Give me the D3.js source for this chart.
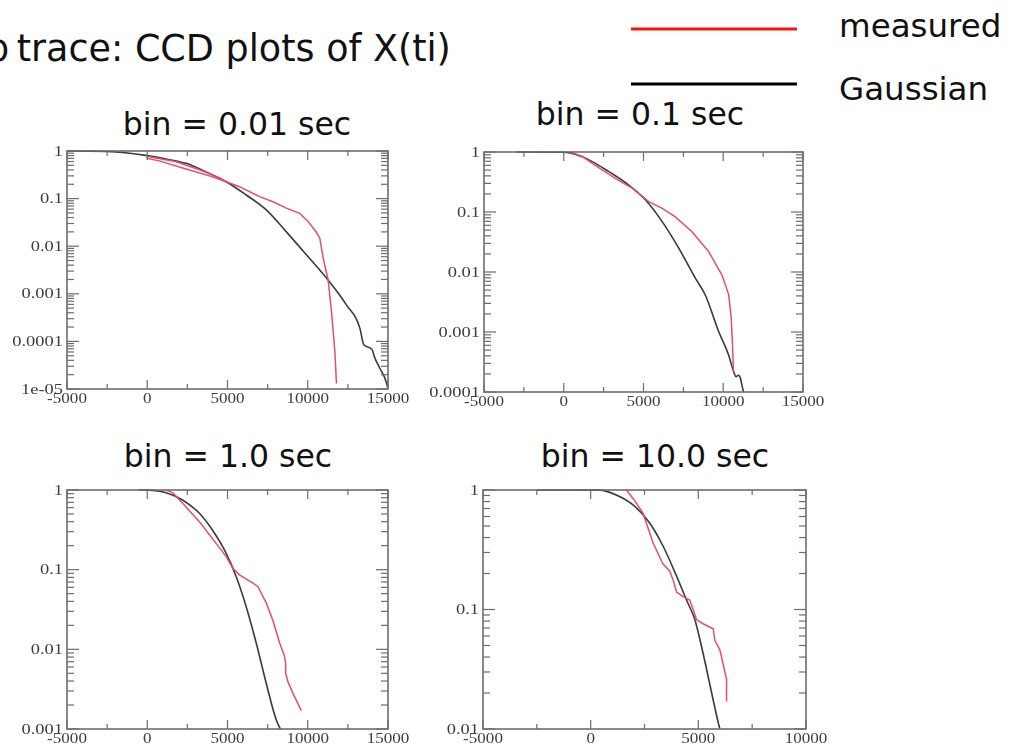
<!DOCTYPE html>
<html>
<head>
<meta charset="utf-8">
<script src="https://cdn.jsdelivr.net/npm/d3@7"></script>
<style>
  html, body { margin: 0; padding: 0; background: #fff; }
  svg { display: block; }
</style>
</head>
<body>
<svg id="chart" width="1011" height="754"></svg>
<script>
// ---- text ----
const titleLead = "p";
const titleRest = " trace: CCD plots of X(ti)";
const panelTitles = ["bin = 0.01 sec", "bin = 0.1 sec", "bin = 1.0 sec", "bin = 10.0 sec"];
const legendLabels = ["measured", "Gaussian"];

// ---- axis ticks ----
const xTicksWide = [-5000, 0, 5000, 10000, 15000];
const xTicksNarrow = [-5000, 0, 5000, 10000];
const yTicks001 = [1, 0.1, 0.01, 0.001, 0.0001, 0.00001];
const yLabels001 = ["1", "0.1", "0.01", "0.001", "0.0001", "1e-05"];
const yTicks01 = [1, 0.1, 0.01, 0.001, 0.0001];
const yLabels01 = ["1", "0.1", "0.01", "0.001", "0.0001"];
const yTicks1 = [1, 0.1, 0.01, 0.001];
const yLabels1 = ["1", "0.1", "0.01", "0.001"];
const yTicks10 = [1, 0.1, 0.01];
const yLabels10 = ["1", "0.1", "0.01"];

// ---- series: [X(ti), complementary cumulative fraction] ----
// bin = 0.01 sec
const gauss001 = [[-5000, 0.998], [-2500, 0.975], [0, 0.80], [1250, 0.67], [2417, 0.55], [3700, 0.36],
  [4917, 0.226], [6167, 0.119], [7417, 0.058], [8667, 0.020], [9917, 0.0066], [11270, 0.00195],
  [12417, 0.00058], [13250, 0.000188], [13500, 0.000084], [13980, 0.000069], [14190, 0.000044],
  [14500, 0.000027], [14920, 0.000013], [15000, 0.00001]];
const measured001 = [[0, 0.76], [0, 0.70], [750, 0.62], [2417, 0.42], [3875, 0.30], [4917, 0.226],
  [5750, 0.178], [7000, 0.11], [7830, 0.086], [8667, 0.063], [9500, 0.049], [10020, 0.033],
  [10540, 0.0196], [10750, 0.0147], [10960, 0.0056], [11270, 0.00195], [11480, 0.00042],
  [11690, 0.000061], [11790, 0.000013]];
const measured001Upper = [[125, 0.76], [1750, 0.60], [3290, 0.40], [4540, 0.27], [4917, 0.226]];

// bin = 0.1 sec
const gauss01 = [[-3000, 1], [0, 0.99], [750, 0.91], [1580, 0.74], [2830, 0.47], [4080, 0.28],
  [5130, 0.158], [6170, 0.069], [7210, 0.025], [8250, 0.0079], [8880, 0.0041], [9710, 0.00102],
  [10340, 0.00041], [10650, 0.00022], [10800, 0.00018], [10960, 0.00019], [11100, 0.00016],
  [11170, 0.00013], [11270, 0.0001]];
const measured01 = [[400, 1], [1170, 0.84], [2000, 0.59], [3250, 0.36], [4290, 0.25], [5330, 0.149],
  [6170, 0.115], [7000, 0.083], [8040, 0.047], [9080, 0.022], [9920, 0.0089], [10340, 0.0042],
  [10500, 0.0017], [10580, 0.00061], [10640, 0.00022]];

// bin = 1.0 sec
const gauss1 = [[-500, 1], [0, 0.995], [1170, 0.925], [2200, 0.75], [3250, 0.51], [4080, 0.31],
  [4920, 0.16], [5540, 0.082], [6170, 0.034], [6790, 0.012], [7420, 0.0037], [8040, 0.0013],
  [8290, 0.001]];
const measured1 = [[1170, 1], [1600, 0.92], [2210, 0.68], [3250, 0.40], [4290, 0.214], [4920, 0.146],
  [5330, 0.104], [5750, 0.086], [6580, 0.068], [6900, 0.061], [7420, 0.038], [7830, 0.023],
  [8250, 0.012], [8560, 0.0081], [8625, 0.0066], [8625, 0.005], [8770, 0.0039], [9080, 0.0028],
  [9600, 0.0017]];

// bin = 10.0 sec
const gauss10 = [[-2500, 1], [400, 0.998], [1190, 0.91], [1970, 0.75], [2740, 0.53], [3360, 0.34],
  [3990, 0.19], [4450, 0.12], [4840, 0.082], [5220, 0.043], [5620, 0.020], [5930, 0.0112],
  [6000, 0.01]];
const measured10 = [[1660, 1], [1970, 0.85], [2430, 0.64], [2900, 0.36], [3360, 0.24], [3670, 0.21],
  [3830, 0.176], [3990, 0.14], [4290, 0.128], [4600, 0.12], [4760, 0.1], [4920, 0.082],
  [5220, 0.076], [5690, 0.069], [5770, 0.055], [6000, 0.046], [6150, 0.035], [6310, 0.026],
  [6310, 0.017]];

// ---- layout ----
const svg = d3.select("#chart");
const frameColor = "#6d6d6d";
const gaussColor = "#3a3a3a";
const measuredColor = "#e2506a";
const sansFont = "DejaVu Sans, sans-serif";

const panels = [
  { title: panelTitles[0], titleX: 237, titleY: 135, box: [67, 151, 388, 389],
    xDomain: [-5000, 15000], xTicks: xTicksWide, yDomain: [1e-5, 1], yTicks: yTicks001, yLabels: yLabels001,
    gauss: gauss001, measured: [measured001, measured001Upper] },
  { title: panelTitles[1], titleX: 640, titleY: 125, box: [484, 152, 803, 392],
    xDomain: [-5000, 15000], xTicks: xTicksWide, yDomain: [1e-4, 1], yTicks: yTicks01, yLabels: yLabels01,
    gauss: gauss01, measured: [measured01] },
  { title: panelTitles[2], titleX: 228, titleY: 467, box: [67, 490, 388, 729],
    xDomain: [-5000, 15000], xTicks: xTicksWide, yDomain: [1e-3, 1], yTicks: yTicks1, yLabels: yLabels1,
    gauss: gauss1, measured: [measured1] },
  { title: panelTitles[3], titleX: 655, titleY: 467, box: [483, 490, 806, 729],
    xDomain: [-5000, 10000], xTicks: xTicksNarrow, yDomain: [1e-2, 1], yTicks: yTicks10, yLabels: yLabels10,
    gauss: gauss10, measured: [measured10] }
];

// soft look of the plotted panels
const defs = svg.append("defs");
defs.append("filter").attr("id", "soft")
  .append("feGaussianBlur").attr("stdDeviation", 0.45);

// page title (its first letter runs off the left edge)
const title = svg.append("text")
  .attr("x", -14).attr("y", 61)
  .attr("font-family", sansFont)
  .attr("font-size", 36.5)
  .attr("fill", "#111");
title.append("tspan").text(titleLead);
title.append("tspan").attr("dx", -4).text(titleRest);

// legend
const legendRows = [
  { label: legendLabels[0], color: "#ff1010", y: 29, ty: 37 },
  { label: legendLabels[1], color: "#000", y: 84, ty: 100 }
];

function drawPanel(p) {
  const [x0, y0, x1, y1] = p.box;
  const x = d3.scaleLinear().domain(p.xDomain).range([x0, x1]);
  const y = d3.scaleLog().domain(p.yDomain).range([y1, y0]);

  svg.append("text")
    .attr("x", p.titleX).attr("y", p.titleY)
    .attr("text-anchor", "middle")
    .attr("font-family", sansFont)
    .attr("font-size", 31.5)
    .attr("fill", "#111")
    .text(p.title);

  const g = svg.append("g").attr("filter", "url(#soft)");

  // curves, clipped to the frame
  const clipId = "clip" + x0 + "_" + y0;
  defs.append("clipPath").attr("id", clipId)
    .append("rect").attr("x", x0).attr("y", y0 - 2).attr("width", x1 - x0).attr("height", y1 - y0 + 2);
  const smooth = d3.line().curve(d3.curveMonotoneX).x(d => x(d[0])).y(d => y(d[1]));
  const line = d3.line().x(d => x(d[0])).y(d => y(d[1]));
  const curves = g.append("g").attr("clip-path", "url(#" + clipId + ")");
  curves.append("path").datum(p.gauss)
    .attr("d", smooth).attr("fill", "none")
    .attr("stroke", gaussColor).attr("stroke-width", 1.6);
  p.measured.forEach(m => {
    curves.append("path").datum(m)
      .attr("d", line).attr("fill", "none")
      .attr("stroke", measuredColor).attr("stroke-width", 1.5);
  });

  // frame
  g.append("rect").attr("x", x0).attr("y", y0).attr("width", x1 - x0).attr("height", y1 - y0)
    .attr("fill", "none").attr("stroke", frameColor).attr("stroke-width", 1.6);

  // x ticks: labelled majors plus midpoints, on bottom and top
  const step = p.xTicks[1] - p.xTicks[0];
  const xMinor = [];
  for (let v = p.xDomain[0] + step / 2; v < p.xDomain[1]; v += step) xMinor.push(v);
  const tickG = g.append("g").attr("stroke", frameColor).attr("stroke-width", 1.2);
  p.xTicks.forEach(v => {
    tickG.append("line").attr("x1", x(v)).attr("x2", x(v)).attr("y1", y1).attr("y2", y1 - 9);
    tickG.append("line").attr("x1", x(v)).attr("x2", x(v)).attr("y1", y0).attr("y2", y0 + 9);
  });
  xMinor.forEach(v => {
    tickG.append("line").attr("x1", x(v)).attr("x2", x(v)).attr("y1", y1).attr("y2", y1 - 5);
    tickG.append("line").attr("x1", x(v)).attr("x2", x(v)).attr("y1", y0).attr("y2", y0 + 5);
  });

  // y ticks: decades plus 2..9 minors, on left and right
  const yMinor = [];
  p.yTicks.slice(1).forEach(dec => { for (let k = 2; k <= 9; k++) yMinor.push(dec * k); });
  p.yTicks.forEach(v => {
    tickG.append("line").attr("x1", x0).attr("x2", x0 + 12).attr("y1", y(v)).attr("y2", y(v));
    tickG.append("line").attr("x1", x1).attr("x2", x1 - 12).attr("y1", y(v)).attr("y2", y(v));
  });
  yMinor.forEach(v => {
    tickG.append("line").attr("x1", x0).attr("x2", x0 + 7).attr("y1", y(v)).attr("y2", y(v));
    tickG.append("line").attr("x1", x1).attr("x2", x1 - 7).attr("y1", y(v)).attr("y2", y(v));
  });

  // tick labels (wide serif digits)
  const labG = g.append("g").attr("font-family", "Liberation Serif, Times New Roman, serif")
    .attr("font-size", 14).attr("fill", "#3c3c3c");
  p.xTicks.forEach(v => {
    labG.append("g").attr("transform", `translate(${x(v)},${y1 + 14}) scale(1.22,1)`)
      .append("text").attr("text-anchor", "middle").text(v);
  });
  p.yTicks.forEach((v, i) => {
    labG.append("g").attr("transform", `translate(${x0 - 4},${y(v) + 4.5}) scale(1.32,1)`)
      .append("text").attr("text-anchor", "end").text(p.yLabels[i]);
  });
}

panels.forEach(drawPanel);

legendRows.forEach(r => {
  svg.append("line").attr("x1", 631).attr("x2", 797).attr("y1", r.y).attr("y2", r.y)
    .attr("stroke", r.color).attr("stroke-width", 3);
  svg.append("text").attr("x", 839).attr("y", r.ty)
    .attr("font-family", sansFont).attr("font-size", 32.5)
    .attr("fill", "#111").text(r.label);
});
</script>
</body>
</html>
